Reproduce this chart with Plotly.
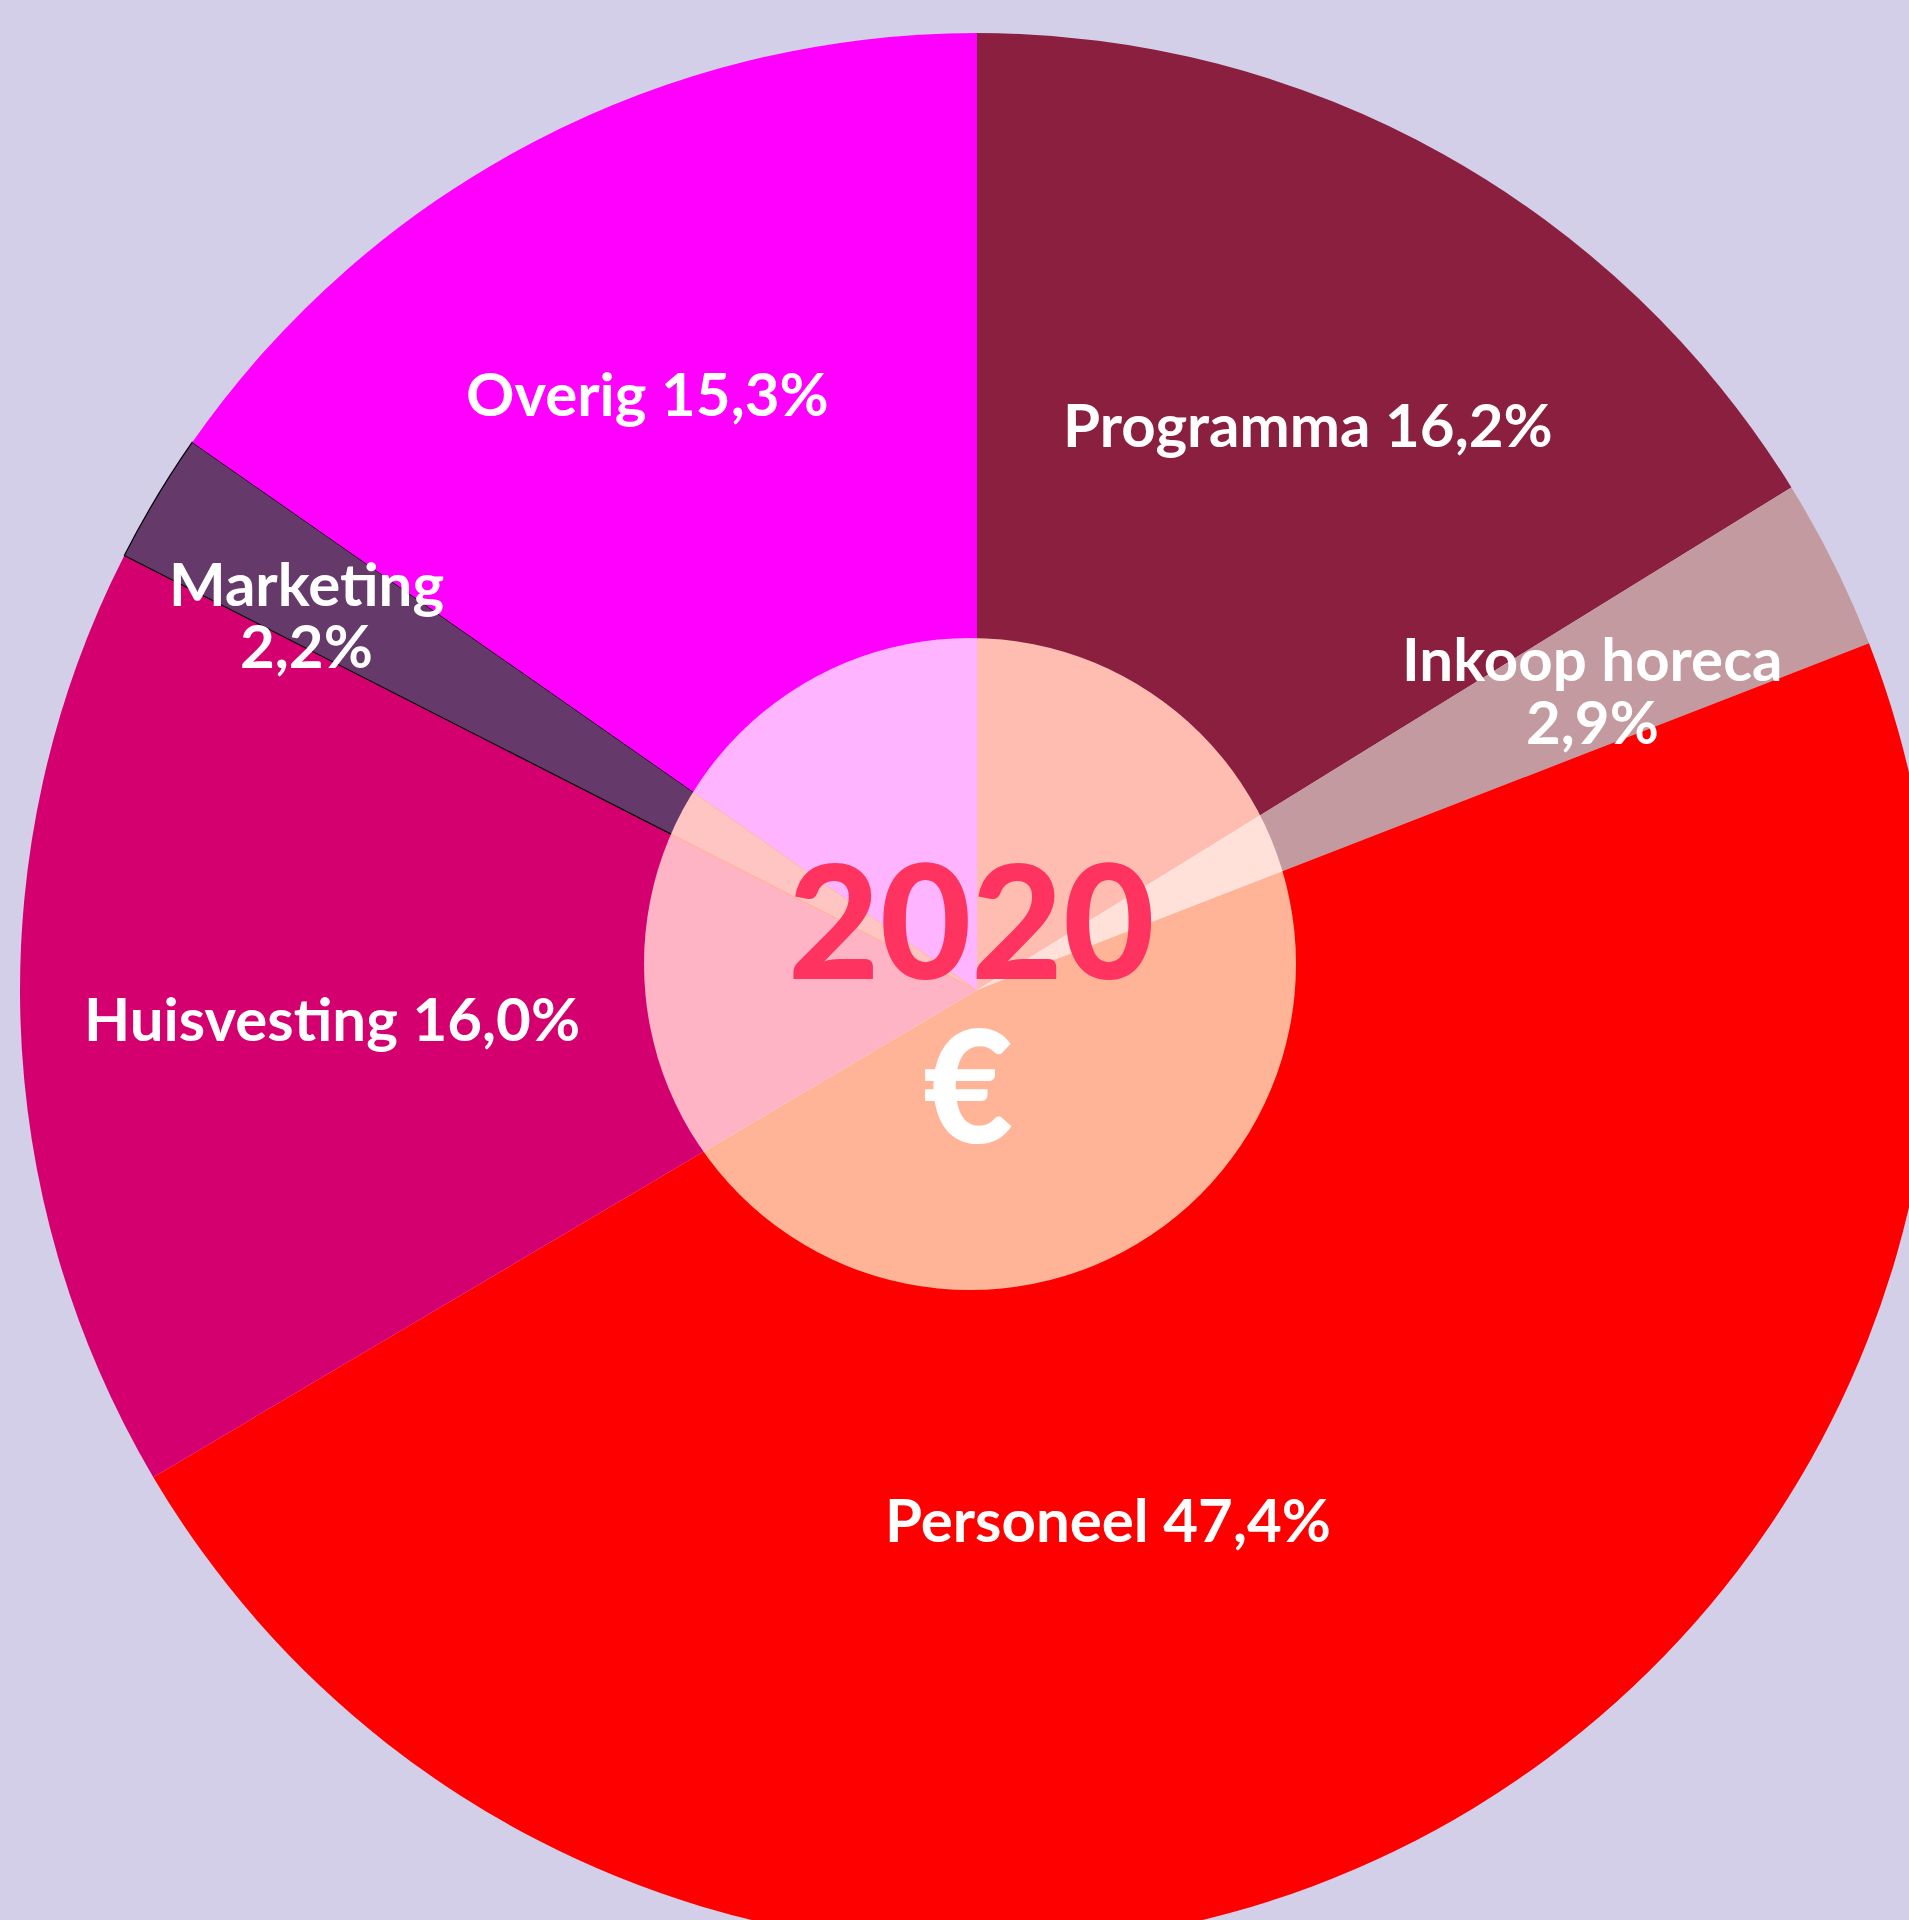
import plotly.graph_objects as go

# ---- data ----
categories = ["Programma", "Inkoop horeca", "Personeel", "Huisvesting", "Marketing", "Overig"]
values = [16.2, 2.9, 47.4, 16.0, 2.2, 15.3]
year_label = "2020"
currency_label = "€"

# ---- style ----
colors = ["#8a1f3f", "#c39aa0", "#ff0000", "#d40070", "#653a6a", "#ff00ff"]
line_colors = ["#8a1f3f", "#c39aa0", "#ff0000", "#d40070", "#000000", "#ff00ff"]
line_widths = [0, 0, 0, 0, 1.2, 0]
BG = "#d3cfe9"
FONT = "Lato"

W = H = 1960            # figure larger than the window; the page clips it
cx, cy, R = 977, 990, 957


def px(x):
    return x / W


def py(y):
    return 1 - y / H


def fmt(v):
    return f"{v:.1f}".replace(".", ",") + "%"


fig = go.Figure(
    go.Pie(
        labels=categories,
        values=values,
        sort=False,
        direction="clockwise",
        rotation=0,
        marker=dict(colors=colors, line=dict(color=line_colors, width=line_widths)),
        textinfo="none",
        hoverinfo="label+percent",
        showlegend=False,
        domain=dict(x=[px(cx - R), px(cx + R)], y=[py(cy + R), py(cy - R)]),
    )
)

# label anchor positions (pixels, centre of text)
label_pos = {
    "Programma": [(1308, 424)],
    "Inkoop horeca": [(1592, 658), (1592, 721)],
    "Personeel": [(1108, 1519)],
    "Huisvesting": [(332, 1018)],
    "Marketing": [(306, 583), (306, 645)],
    "Overig": [(647, 393)],
}

annotations = []
for cat, val in zip(categories, values):
    pos = label_pos[cat]
    lines = [cat, fmt(val)] if len(pos) == 2 else [f"{cat} {fmt(val)}"]
    for txt, (x, y) in zip(lines, pos):
        annotations.append(dict(
            x=px(x), y=py(y), xref="paper", yref="paper",
            xanchor="center", yanchor="middle", showarrow=False,
            text=txt, font=dict(family=FONT, size=60, color="white", weight="bold"),
        ))

annotations.append(dict(
    x=px(971), y=py(918), xref="paper", yref="paper", xanchor="center", yanchor="middle",
    showarrow=False, text=year_label,
    font=dict(family=FONT, size=158, color="#ff3360", weight=900),
))
annotations.append(dict(
    x=px(968), y=py(1082), xref="paper", yref="paper", xanchor="center", yanchor="middle",
    showarrow=False, text=currency_label,
    font=dict(family=FONT, size=156, color="white", weight=900),
))

ccx, ccy, cr = 970, 964, 326
fig.add_shape(
    type="circle", xref="paper", yref="paper",
    x0=px(ccx - cr), x1=px(ccx + cr), y0=py(ccy + cr), y1=py(ccy - cr),
    fillcolor="rgb(255,180,152)", line=dict(width=0), layer="above",
)

fig.update_layout(
    width=W, height=H,
    margin=dict(l=0, r=0, t=0, b=0),
    paper_bgcolor=BG, plot_bgcolor=BG,
    annotations=annotations,
    showlegend=False,
)

post = """
document.documentElement.style.margin='0';
document.body.style.margin='0';
document.documentElement.style.overflow='hidden';
document.body.style.overflow='hidden';
document.body.style.background='%s';
var gd=document.getElementById('{plot_id}');
gd.querySelectorAll('.shapelayer path').forEach(function(p){p.style.mixBlendMode='screen';});
""" % BG

fig.write_html("out.html", post_script=post, config=dict(displayModeBar=False))
